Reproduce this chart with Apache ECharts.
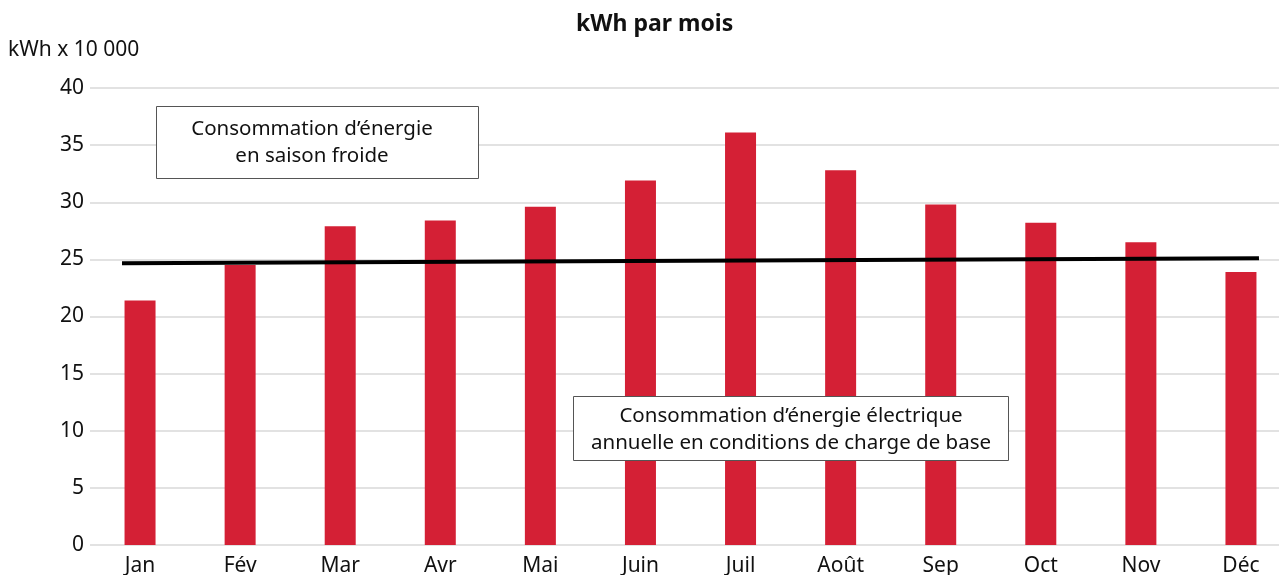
<!DOCTYPE html>
<html>
<head>
<meta charset="utf-8">
<script src="https://cdn.jsdelivr.net/npm/echarts@6/dist/echarts.min.js"></script>
<style>
html,body{margin:0;padding:0;background:#fff;}
#c{width:1279px;height:575px;}
</style>
</head>
<body>
<div id="c"></div>
<script>
const months = ['Jan','Fév','Mar','Avr','Mai','Juin','Juil','Août','Sep','Oct','Nov','Déc'];
const consumption = [21.4, 24.5, 27.9, 28.4, 29.6, 31.9, 36.1, 32.8, 29.8, 28.2, 26.5, 23.9];
const baseLoad = [[-0.18, 24.65], [11.18, 25.1]];
const yTicks = { min: 0, max: 40, interval: 5 };
const titleText = 'kWh par mois';
const unitText = 'kWh x 10 000';
const noteCold = 'Consommation d’énergie\nen saison froide';
const noteBase = 'Consommation d’énergie électrique\nannuelle en conditions de charge de base';

const FONT = 'Noto Sans';
const chart = echarts.init(document.getElementById('c'), null, {renderer: 'canvas'});
chart.setOption({
  animation: false,
  backgroundColor: '#fff',
  title: [
    { text: titleText, left: 571, top: 8,
      textStyle: { fontFamily: FONT, fontSize: 23, fontWeight: 'bold', color: '#111' } },
    { text: unitText, left: 3, top: 35,
      textStyle: { fontFamily: FONT, fontSize: 21, fontWeight: 'normal', color: '#111' } }
  ],
  grid: { left: 90, width: 1201, top: 88, bottom: 30, containLabel: false, outerBoundsMode: 'none' },
  xAxis: [
    { type: 'category', data: months, boundaryGap: true,
      axisLine: { show: false }, axisTick: { show: false },
      axisLabel: { fontFamily: FONT, fontSize: 21, color: '#111', margin: 11 } },
    { type: 'value', min: -0.5, max: 11.5, show: false }
  ],
  yAxis: {
    type: 'value', min: yTicks.min, max: yTicks.max, interval: yTicks.interval,
    axisLine: { show: false }, axisTick: { show: false },
    axisLabel: { fontFamily: FONT, fontSize: 21, color: '#111', margin: 6 },
    splitLine: { lineStyle: { color: '#d9d9d9', width: 1.5 } }
  },
  series: [
    { type: 'bar', data: consumption, barWidth: 31, xAxisIndex: 0,
      itemStyle: { color: '#d42035' }, z: 2 },
    { type: 'line', data: baseLoad, xAxisIndex: 1, symbol: 'none',
      lineStyle: { color: '#000', width: 4 }, z: 5 }
  ],
  graphic: [
    { type: 'rect', left: 156, top: 106, z: 100, shape: { width: 322, height: 72 },
      style: { fill: '#fff', stroke: '#555', lineWidth: 1 } },
    { type: 'text', x: 312, y: 143, z: 101,
      style: { text: noteCold, fontFamily: FONT, fontSize: 20.5, fill: '#111',
               align: 'center', verticalAlign: 'middle', lineHeight: 27 } },
    { type: 'rect', left: 573, top: 396, z: 100, shape: { width: 435, height: 64 },
      style: { fill: '#fff', stroke: '#555', lineWidth: 1 } },
    { type: 'text', x: 791, y: 429.5, z: 101,
      style: { text: noteBase, fontFamily: FONT, fontSize: 20.5, fill: '#111',
               align: 'center', verticalAlign: 'middle', lineHeight: 27 } }
  ]
});
</script>
</body>
</html>
